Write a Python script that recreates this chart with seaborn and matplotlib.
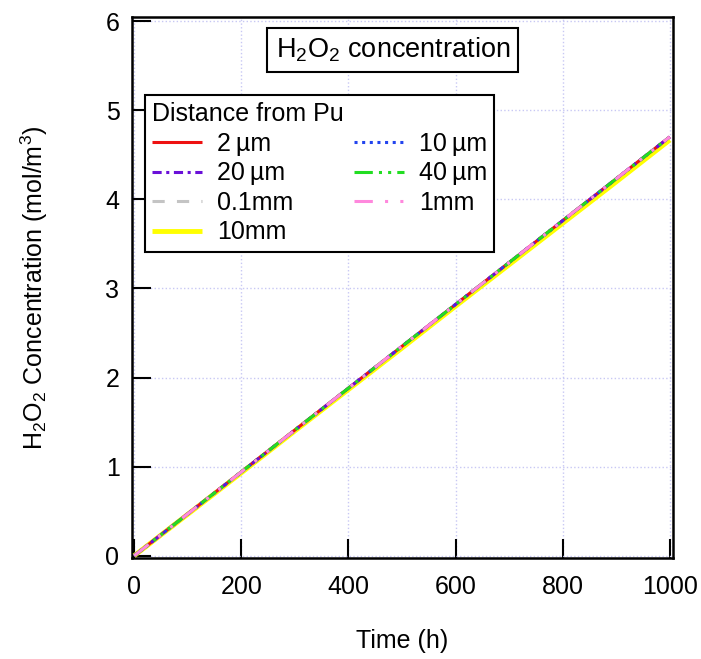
import numpy as np
import pandas as pd
import matplotlib
matplotlib.use("Agg")
import matplotlib.pyplot as plt
import seaborn as sns

# ---- data ----
time_h = [0, 100, 200, 300, 400, 500, 600, 700, 800, 900, 1000]
conc_2um = [0.0, 0.47, 0.94, 1.41, 1.88, 2.35, 2.82, 3.29, 3.76, 4.23, 4.70]
conc_10um = [0.0, 0.47, 0.94, 1.41, 1.88, 2.35, 2.82, 3.29, 3.76, 4.23, 4.70]
conc_20um = [0.0, 0.47, 0.94, 1.41, 1.88, 2.35, 2.82, 3.29, 3.76, 4.23, 4.70]
conc_40um = [0.0, 0.47, 0.94, 1.41, 1.88, 2.35, 2.82, 3.29, 3.76, 4.23, 4.70]
conc_01mm = [0.0, 0.47, 0.94, 1.41, 1.88, 2.35, 2.82, 3.29, 3.76, 4.23, 4.70]
conc_1mm = [0.0, 0.47, 0.94, 1.41, 1.88, 2.35, 2.82, 3.29, 3.76, 4.23, 4.70]
conc_10mm = [0.0, 0.465, 0.93, 1.40, 1.865, 2.33, 2.80, 3.265, 3.73, 4.195, 4.665]

series_labels = ["2\u2009\u00b5m", "10\u2009\u00b5m", "20\u2009\u00b5m", "40\u2009\u00b5m",
                 "0.1mm", "1mm", "10mm"]
series_values = [conc_2um, conc_10um, conc_20um, conc_40um, conc_01mm, conc_1mm, conc_10mm]

x_ticks = [0, 200, 400, 600, 800, 1000]
y_ticks = [0, 1, 2, 3, 4, 5, 6]

# ---- style ----
sns.set_theme(style="white")
plt.rcParams["font.family"] = ["Liberation Sans", "DejaVu Sans"]
plt.rcParams["mathtext.fontset"] = "custom"
plt.rcParams["mathtext.rm"] = "Liberation Sans"
plt.rcParams["mathtext.it"] = "Liberation Sans"
plt.rcParams["mathtext.bf"] = "Liberation Sans"
plt.rcParams["text.color"] = "black"
plt.rcParams["axes.labelcolor"] = "black"

styles = {
    "2\u2009\u00b5m": dict(color="#ee1111", dashes=None, lw=2.2, z=5),
    "10\u2009\u00b5m": dict(color="#2244ee", dashes=(1, 1.5), lw=2.2, z=6),
    "20\u2009\u00b5m": dict(color="#6a10d8", dashes=(3, 1.5, 1, 1.5), lw=2.2, z=7),
    "40\u2009\u00b5m": dict(color="#22dd22", dashes=(6, 2, 1, 2, 1, 2), lw=2.2, z=8),
    "0.1mm": dict(color="#c4c4c4", dashes=(4, 4), lw=2.2, z=4),
    "1mm": dict(color="#ff88dd", dashes=(6, 4, 1, 4, 1, 4), lw=2.2, z=9),
    "10mm": dict(color="#ffff00", dashes=None, lw=3.5, z=3),
}

rows = []
for lab, vals in zip(series_labels, series_values):
    for t, v in zip(time_h, vals):
        rows.append({"Time": t, "Conc": v, "Distance": lab})
df = pd.DataFrame(rows)

fig = plt.figure(figsize=(7.01, 6.59), dpi=100)
ax = fig.add_axes([132 / 701, 1 - 558 / 659, 541 / 701, 541 / 659])

handles = {}
for lab in series_labels:
    st = styles[lab]
    sub = df[df["Distance"] == lab]
    sns.lineplot(data=sub, x="Time", y="Conc", ax=ax, color=st["color"],
                 linewidth=st["lw"], zorder=st["z"], legend=False)
    line = ax.get_lines()[-1]
    if st["dashes"] is not None:
        line.set_dashes(st["dashes"])
    line.set_label(lab)
    line.set_solid_capstyle("butt")
    handles[lab] = line

ax.set_xlim(-4, 1006)
ax.set_ylim(-0.025, 6.045)
ax.set_xticks(x_ticks)
ax.set_yticks(y_ticks)
ax.grid(True, color="#c8c8f4", linestyle=":", linewidth=1.0)
ax.tick_params(direction="in", length=14, width=1.5, labelsize=18, colors="black",
               left=True, bottom=True)
ax.tick_params(axis="x", pad=12)
ax.tick_params(axis="y", pad=9)
for s in ax.spines.values():
    s.set_color("black")
    s.set_linewidth(1.8)

ax.set_xlabel("Time (h)", fontsize=18, labelpad=22, color="black")
ax.set_ylabel(r"H$_2$O$_2$ Concentration (mol/m$^3$)", fontsize=18, labelpad=40,
              color="black")

order = ["2\u2009\u00b5m", "20\u2009\u00b5m", "0.1mm", "10mm",
         "10\u2009\u00b5m", "40\u2009\u00b5m", "1mm"]
leg = ax.legend([handles[k] for k in order], order, ncol=2,
                title="Distance from Pu", title_fontsize=18, fontsize=18,
                loc="upper left", bbox_to_anchor=(0.024, 0.856),
                frameon=True, fancybox=False, edgecolor="black",
                framealpha=1, borderpad=0.3, labelspacing=0.22,
                handlelength=2.0, handletextpad=0.6, columnspacing=2.4,
                alignment="left", borderaxespad=0)
leg.get_frame().set_linewidth(1.5)
leg.set_zorder(20)
for t in leg.get_texts():
    t.set_color("black")
leg.get_title().set_color("black")

ax.text(0.482, 0.939, r"H$_2$O$_2$ concentration", transform=ax.transAxes,
        ha="center", va="center", fontsize=19.5, zorder=20, color="black",
        bbox=dict(boxstyle="square,pad=0.3", facecolor="white",
                  edgecolor="black", linewidth=1.5))

fig.savefig("out.png", dpi=100)
